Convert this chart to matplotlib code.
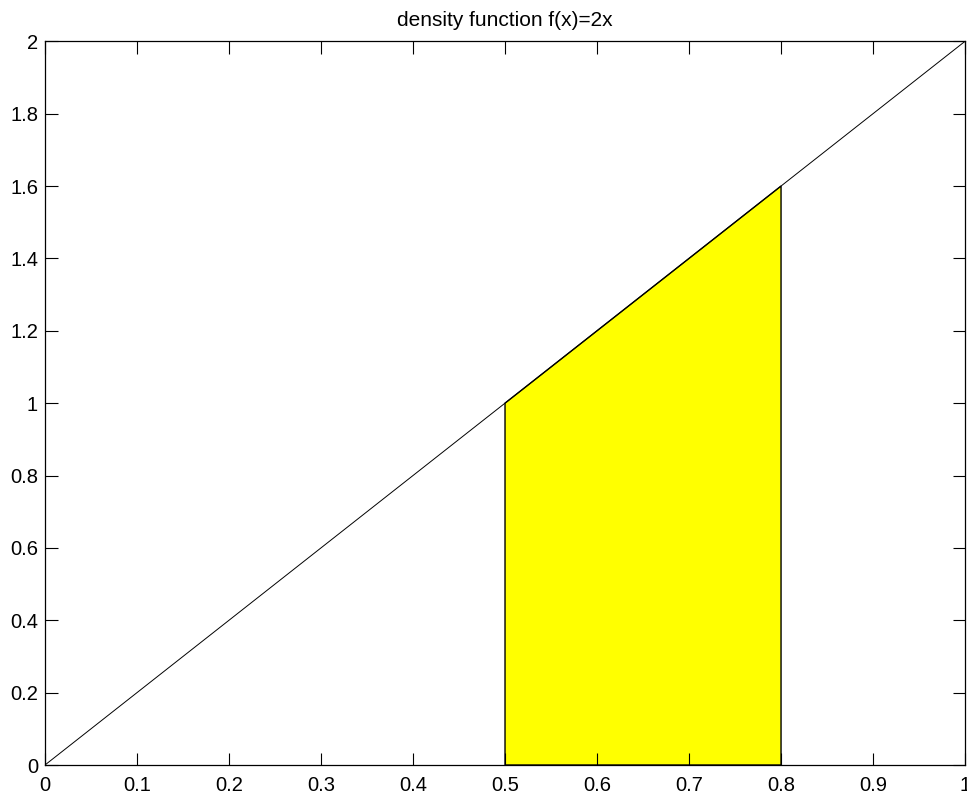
import numpy as np
import matplotlib.pyplot as plt

plt.rcParams['font.family'] = ['Liberation Sans', 'DejaVu Sans']

# density f(x)=2x on [0, 1], shaded between a and b
x_line = [0, 1]
y_line = [0, 2]
x_fill = [0.5, 0.8]
y_fill = [1.0, 1.6]
xticks = [0, 0.1, 0.2, 0.3, 0.4, 0.5, 0.6, 0.7, 0.8, 0.9, 1]
yticks = [0, 0.2, 0.4, 0.6, 0.8, 1, 1.2, 1.4, 1.6, 1.8, 2]
title = 'density function f(x)=2x'

fig = plt.figure(figsize=(9.67, 7.94), dpi=100)
ax = fig.add_axes([0.0465, 0.0365, 0.9515, 0.9115])

# yellow region with black outline
px = [x_fill[0], x_fill[0], x_fill[1], x_fill[1]]
py = [0, y_fill[0], y_fill[1], 0]
ax.fill(px, py, facecolor='#ffff00', edgecolor='black', linewidth=1)
ax.plot(x_line, y_line, '-', color='black', linewidth=0.7)

ax.set_xlim(0, 1)
ax.set_ylim(0, 2)
ax.set_xticks(xticks)
ax.set_yticks(yticks)
ax.set_xticklabels([('%g' % t) for t in xticks])
ax.set_yticklabels([('%g' % t) for t in yticks])
ax.tick_params(direction='in', length=9, width=0.8, top=True, right=True,
               labelsize=14.5)
ax.tick_params(axis='x', pad=8)
ax.tick_params(axis='y', pad=5)
for s in ax.spines.values():
    s.set_linewidth(0.9)
ax.set_title(title, fontsize=15, pad=11)

fig.savefig('out.png', dpi=100)
